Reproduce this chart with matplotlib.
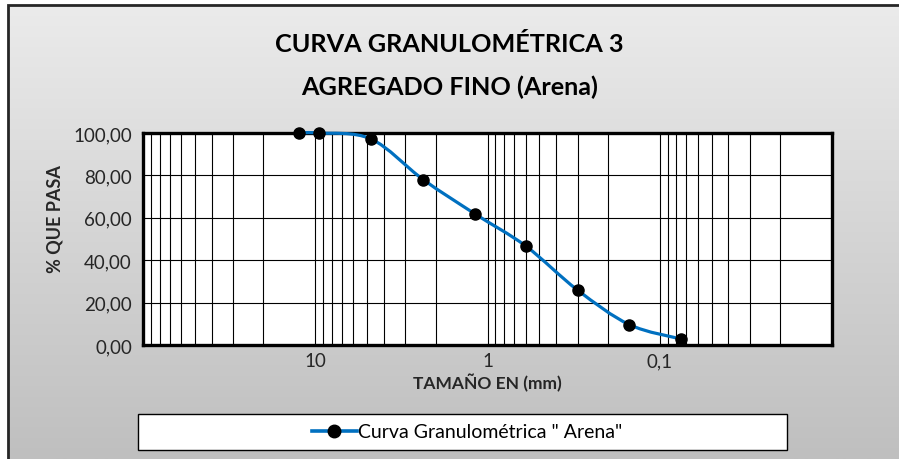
import matplotlib
matplotlib.use("Agg")
import matplotlib.pyplot as plt
import numpy as np
from matplotlib.lines import Line2D
from matplotlib.patches import PathPatch, Rectangle
from matplotlib.path import Path
from matplotlib.ticker import FixedLocator, LogLocator, NullFormatter

plt.rcParams["font.family"] = ["Lato", "DejaVu Sans"]

# tamiz (mm) y porcentaje que pasa
sizes_mm = [12.5, 9.5, 4.75, 2.36, 1.18, 0.6, 0.3, 0.15, 0.075]
pct_passing = [100.0, 100.0, 97.2, 78.0, 61.8, 46.7, 25.9, 9.6, 2.8]

x_ticks = [10, 1, 0.1]
x_tick_labels = ["10", "1", "0,1"]
y_ticks = [0, 20, 40, 60, 80, 100]
y_tick_labels = ["0,00", "20,00", "40,00", "60,00", "80,00", "100,00"]

LINE_BLUE = "#0070C0"
TEXT = "#262626"


def smooth_path(xs, ys):
    # bezier tipo "linea suavizada" de Excel, calculada en espacio log10(x)
    lx = np.log10(np.asarray(xs, dtype=float))
    y = np.asarray(ys, dtype=float)
    pts = np.column_stack([lx, y])
    verts = [pts[0]]
    codes = [Path.MOVETO]
    n = len(pts)
    for i in range(n - 1):
        p0 = pts[i - 1] if i > 0 else pts[i]
        p1 = pts[i]
        p2 = pts[i + 1]
        p3 = pts[i + 2] if i + 2 < n else pts[i + 1]
        c1 = p1 + (p2 - p0) / 6.0
        c2 = p2 - (p3 - p1) / 6.0
        verts += [c1, c2, p2]
        codes += [Path.CURVE4] * 3
    verts = np.array(verts)
    verts[:, 0] = 10 ** verts[:, 0]
    return Path(verts, codes)


fig = plt.figure(figsize=(8.99, 4.6), dpi=100)
fig.patch.set_facecolor("white")

# fondo con degradado
bg = fig.add_axes([8 / 899, 0, 1 - 8 / 899, 1 - 6 / 460], zorder=-10)
grad = np.linspace(0, 1, 256).reshape(-1, 1)
bg.imshow(grad, aspect="auto", cmap=matplotlib.colors.LinearSegmentedColormap.from_list(
    "g", ["#ebebeb", "#bfbfbf"]), extent=[0, 1, 0, 1], origin="upper")
bg.set_axis_off()
fig.add_artist(Rectangle((7.5 / 899, -0.01), 1.0, 1 - 5.5 / 460 + 0.01, transform=fig.transFigure,
                         fill=False, edgecolor="#262626", linewidth=2.0))

ax = fig.add_axes([143 / 899, 1 - 346 / 460, (832 - 143) / 899, (346 - 134) / 460])
ax.set_facecolor("white")
ax.set_xscale("log")
ax.set_xlim(100, 0.01)
ax.set_ylim(0, 100)

ax.xaxis.set_major_locator(FixedLocator(x_ticks))
ax.set_xticklabels(x_tick_labels)
ax.xaxis.set_minor_locator(LogLocator(base=10, subs=np.arange(2, 10), numticks=20))
ax.xaxis.set_minor_formatter(NullFormatter())
ax.set_yticks(y_ticks)
ax.set_yticklabels(y_tick_labels)

ax.grid(which="both", axis="x", color="black", linewidth=0.8)
ax.grid(which="major", axis="y", color="black", linewidth=0.8)
ax.set_axisbelow(True)
ax.tick_params(which="both", length=0, labelsize=13.5, colors=TEXT, pad=5)
ax.tick_params(axis="y", pad=8)
for sp in ax.spines.values():
    sp.set_linewidth(2.4)
    sp.set_color("black")

ax.add_patch(PathPatch(smooth_path(sizes_mm, pct_passing), facecolor="none",
                       edgecolor=LINE_BLUE, linewidth=2.3, zorder=3, clip_on=False))
ax.plot(sizes_mm, pct_passing, linestyle="none", marker="o", markersize=8,
        color="black", zorder=4, clip_on=False)

ax.set_xlabel("TAMAÑO EN (mm)", fontsize=12.5, fontweight="bold", color=TEXT)
ax.xaxis.set_label_coords(0.5, -(383 - 346) / 212, transform=ax.transAxes)
ax.xaxis.label.set_va("center")
ax.set_ylabel("% QUE PASA", fontsize=13, fontweight="bold", color=TEXT)
ax.yaxis.set_label_coords((55 - 143) / 689, (346 - 219) / 212, transform=ax.transAxes)
ax.yaxis.label.set_va("center")

fig.text(0.5, 1 - 45 / 460, "CURVA GRANULOMÉTRICA 3", ha="center", va="center",
         fontsize=18.2, fontweight="bold", color="black")
fig.text(0.5, 1 - 87 / 460, "AGREGADO FINO (Arena)", ha="center", va="center",
         fontsize=18.2, fontweight="bold", color="black")

# cuadro de la leyenda
fig.add_artist(Rectangle((138 / 899, 1 - 451 / 460), (787 - 138) / 899, 36 / 460,
                         transform=fig.transFigure, facecolor="white",
                         edgecolor="black", linewidth=1.0))
handle = Line2D([], [], color=LINE_BLUE, linewidth=2.6, marker="o", markersize=9,
                markerfacecolor="black", markeredgecolor="black")
leg = fig.legend([handle], ['Curva Granulométrica " Arena"'],
                 bbox_to_anchor=(467 / 899, 1 - 433 / 460), loc="center",
                 frameon=False, fontsize=14, handlelength=2.3, handletextpad=0.05,
                 borderpad=0, borderaxespad=0)
leg.set_zorder(5)

fig.savefig("out.png", dpi=100)
